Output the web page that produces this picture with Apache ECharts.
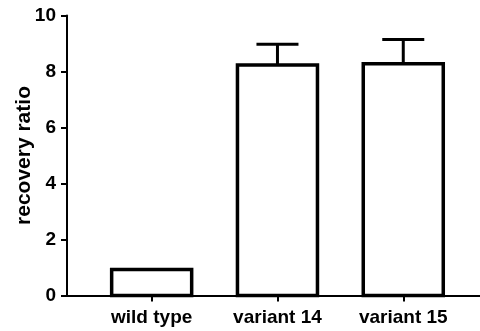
<!DOCTYPE html>
<html>
<head>
<meta charset="utf-8">
<script src="https://cdn.jsdelivr.net/npm/echarts@6/dist/echarts.min.js"></script>
<style>
  html, body { margin: 0; padding: 0; background: #fff; }
  #chart { width: 480px; height: 331px; }
</style>
</head>
<body>
<div id="chart"></div>
<script>
// categories and values
const categories = ['wild type', 'variant 14', 'variant 15'];
const means = [0.93, 8.23, 8.28];
const errUp = [0, 0.74, 0.86];
const yTicks = [0, 2, 4, 6, 8, 10];

const barHalf = 0.318;  // half bar width, in category units
const capHalf = 0.167;  // half error cap width
const font = 'Liberation Sans, Arial, sans-serif';

const seriesData = categories.map((c, i) => [i, means[i], errUp[i]]);

const chart = echarts.init(document.getElementById('chart'));
chart.setOption({
  animation: false,
  grid: { left: 67, right: 0, top: 15.5, bottom: 35.5, containLabel: false },
  xAxis: {
    type: 'value',
    min: -0.673,
    max: 2.61,
    splitLine: { show: false },
    axisLine: { show: true, onZero: false, lineStyle: { color: '#000', width: 2 } },
    axisTick: { show: true, length: 6, customValues: [0, 1, 2], lineStyle: { color: '#000', width: 2 } },
    axisLabel: {
      customValues: [0, 1, 2],
      formatter: v => categories[Math.round(v)],
      color: '#000', fontWeight: 'bold', fontSize: 19,
      fontFamily: font, margin: 13
    }
  },
  yAxis: {
    type: 'value',
    min: yTicks[0],
    max: yTicks[yTicks.length - 1],
    interval: 2,
    name: 'recovery ratio',
    nameLocation: 'middle',
    nameGap: 32,
    nameMoveOverlap: false,
    nameTextStyle: { color: '#000', fontWeight: 'bold', fontSize: 21, fontFamily: font },
    splitLine: { show: false },
    axisLine: { show: true, onZero: false, lineStyle: { color: '#000', width: 2 } },
    axisTick: { show: true, length: 6, lineStyle: { color: '#000', width: 2 } },
    axisLabel: { color: '#000', fontWeight: 'bold', fontSize: 19, fontFamily: font, margin: 11 }
  },
  series: [{
    type: 'custom',
    data: seriesData,
    clip: false,
    renderItem: function (params, api) {
      const x = api.value(0), y = api.value(1), e = api.value(2);
      const tl = api.coord([x - barHalf, y]);
      const br = api.coord([x + barHalf, 0]);
      const children = [];
      if (e > 0) {
        const top = api.coord([x, y + e]);
        const base = api.coord([x, y]);
        const cl = api.coord([x - capHalf, y + e]);
        const cr = api.coord([x + capHalf, y + e]);
        children.push({ type: 'line', shape: { x1: base[0], y1: base[1], x2: top[0], y2: top[1] },
          style: { stroke: '#000', lineWidth: 3 } });
        children.push({ type: 'line', shape: { x1: cl[0], y1: cl[1], x2: cr[0], y2: cr[1] },
          style: { stroke: '#000', lineWidth: 3 } });
      }
      children.push({ type: 'rect', shape: { x: tl[0], y: tl[1], width: br[0] - tl[0], height: br[1] - tl[1] },
        style: { fill: '#fff', stroke: '#000', lineWidth: 3.5 } });
      return { type: 'group', children: children };
    }
  }]
});
</script>
</body>
</html>
